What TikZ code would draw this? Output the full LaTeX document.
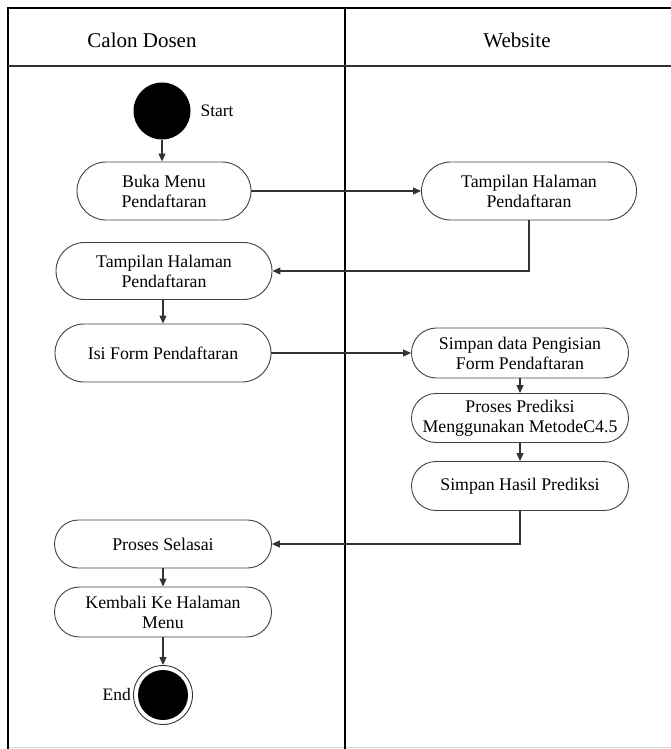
\documentclass[tikz,border=0pt]{standalone}
\usepackage{fontspec}
\setmainfont{Liberation Serif}
\usetikzlibrary{shapes.misc,arrows.meta}
\begin{document}
\begin{tikzpicture}[x=1pt,y=-1pt,
  frame/.style={line width=2.2pt,black},
  act/.style={rounded rectangle,draw=black!75,line width=0.9pt,align=center,
    inner sep=0pt,font=\fontsize{17.8}{20}\selectfont},
  flow/.style={draw=black!80,line width=1.2pt,-{Triangle[length=8pt,width=7pt]}},
  lane/.style={font=\fontsize{21}{24}\selectfont},
  tag/.style={font=\fontsize{17.5}{20}\selectfont}]
\useasboundingbox (0,0) rectangle (671,749);
% swimlane frame
\draw[black!15,line width=1pt] (8,747) -- (671,747);
\draw[frame] (671,8) -- (8,8) -- (8,749);
\draw[frame] (345,8) -- (345,749);
\draw[black!80,line width=2pt] (8,66) -- (671,66);
\node[lane] (lane1) at (142,40) {Calon Dosen};
\node[lane] (lane2) at (517,40) {Website};
% activities
\node[circle,fill=black,minimum size=57pt,inner sep=0pt] (start) at (162,111) {};
\node[tag,anchor=west] (startlbl) at (197,111) {Start};
\node[act,minimum width=174pt,minimum height=58pt] (buka) at (164,191) {Buka Menu\\Pendaftaran};
\node[act,minimum width=215pt,minimum height=58pt] (tampw) at (529,191) {Tampilan Halaman\\Pendaftaran};
\node[act,minimum width=216pt,minimum height=57pt] (tampc) at (164,271) {Tampilan Halaman\\Pendaftaran};
\node[act,minimum width=216pt,minimum height=58pt] (isi) at (163,353) {Isi Form Pendaftaran};
\node[act,minimum width=217pt,minimum height=50pt] (simpan) at (520,353) {Simpan data Pengisian\\Form Pendaftaran};
\node[act,minimum width=217pt,minimum height=49pt] (proses) at (520,418) {Proses Prediksi\\Menggunakan MetodeC4.5};
\node[act,minimum width=217pt,minimum height=49pt] (hasil) at (520,486) {Simpan Hasil Prediksi};
\node[act,minimum width=217pt,minimum height=48pt] (selesai) at (163,544) {Proses Selasai};
\node[act,minimum width=217pt,minimum height=50pt] (kembali) at (163,612) {Kembali Ke Halaman\\Menu};
\node[circle,draw=black!80,line width=0.9pt,minimum size=59pt,inner sep=0pt] (end) at (163,695) {};
\node[circle,fill=black,minimum size=50pt,inner sep=0pt] (endcore) at (163,695) {};
\node[tag,anchor=east,inner sep=2pt] (endlbl) at (end.west) {End};
% transitions
\draw[flow] (start.south) -- (start.south |- buka.north);
\draw[flow] (buka.east) -- (tampw.west);
\draw[flow] (tampw.south) |- (tampc.east);
\draw[flow] (isi.north |- tampc.south) -- (isi.north);
\draw[flow] (isi.east) -- (simpan.west);
\draw[flow] (simpan.south) -- (proses.north);
\draw[flow] (proses.south) -- (hasil.north);
\draw[flow] (hasil.south) |- (selesai.east);
\draw[flow] (selesai.south) -- (kembali.north);
\draw[flow] (kembali.south) -- (end.north);
\end{tikzpicture}
\end{document}
